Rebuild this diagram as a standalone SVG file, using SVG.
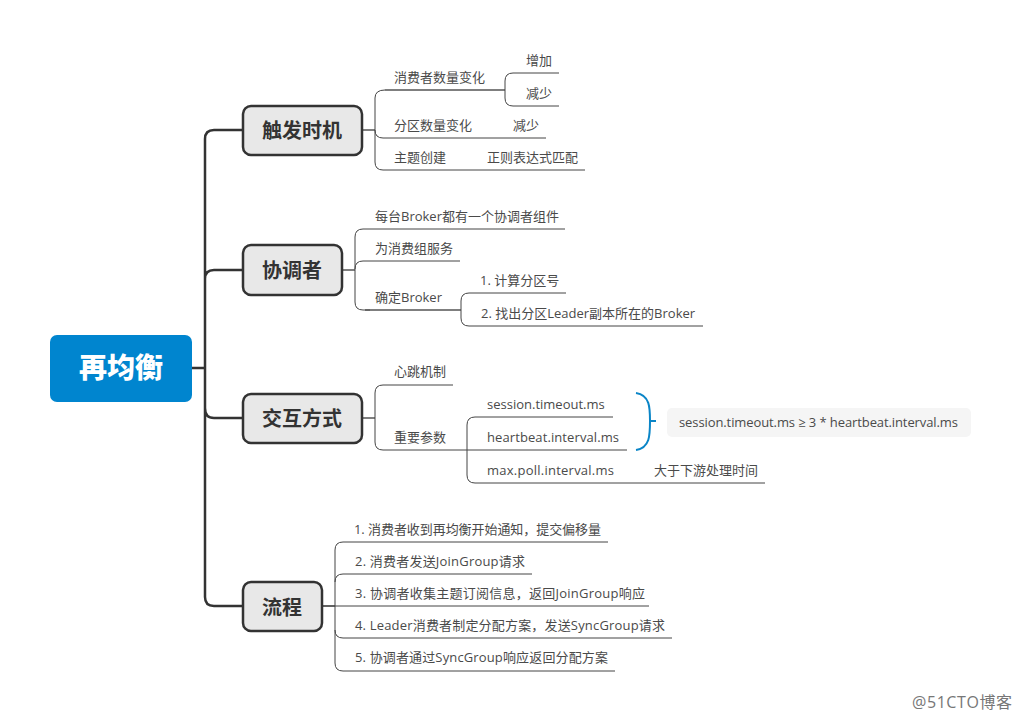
<svg xmlns="http://www.w3.org/2000/svg" width="1021" height="721" viewBox="0 0 1021 721">
<style>
text{font-family:"Open Sans","Noto Sans CJK SC",sans-serif;}
.l{font-size:13px;fill:#4a4a4a;}
.n{font-size:20px;font-weight:700;fill:#333;text-anchor:middle;font-family:"Noto Sans CJK SC",sans-serif;}
.b{fill:#e8e8e8;stroke:#333;stroke-width:2.5;}
.t{fill:none;stroke:#333;stroke-width:2.5;}
.c{fill:none;stroke:#444;stroke-width:1;}
.m{fill:none;stroke:#555;stroke-width:1.5;}
</style>
<rect width="1021" height="721" fill="#fff"/>
<g id="connectors">
<path class="t" d="M192 368H205M243 130H214Q205 130 205 139V597Q205 606 214 606H243M205 279Q205 270 214 270H243M205 408Q205 418 214 418H243"/>
<path class="m" d="M362 130H375M342 270H355M362 418H375M322 606H335"/>
<path class="c" d="M385 90Q375 90 375 98V162Q375 170 383 170H585M375 130V130Q375 138 383 138H546"/>
<path class="m" d="M385 90H505"/>
<path class="c" d="M559 73H513Q505 73 505 81V98Q505 106 513 106H559"/>
<path class="c" d="M565 229H363Q355 229 355 237V302Q355 310 363 310H370M355 269Q355 261 363 261H460"/>
<path class="m" d="M365 310H461"/>
<path class="c" d="M566 293H469Q461 293 461 301V318Q461 326 469 326H703"/>
<path class="c" d="M453 385H383Q375 385 375 393V442Q375 450 383 450H627"/>
<path class="c" d="M613 417H475Q467 417 467 425V475Q467 483 475 483H765"/>
<path class="c" d="M608 542H343Q335 542 335 550V663Q335 671 343 671H615M532 574H343Q335 574 335 582M322 606H649M672 638H343Q335 638 335 630"/>
<path d="M636 393C650 395 650 408 650 421C650 435 650 448 636 450M650 421H656" fill="none" stroke="#0a85c7" stroke-width="2"/>
</g>
<g id="root"><rect x="50" y="335" width="142" height="67" rx="7" fill="#0085cf"/><text x="121" y="378" text-anchor="middle" font-size="28" font-weight="900" fill="#fff" style="font-family:'Noto Sans CJK SC',sans-serif">再均衡</text></g>
<g id="n1"><rect class="b" x="243" y="106" width="119" height="49" rx="8"/><text class="n" x="302" y="138">触发时机</text></g>
<g id="n2"><rect class="b" x="243" y="245" width="99" height="50" rx="8"/><text class="n" x="292" y="278">协调者</text></g>
<g id="n3"><rect class="b" x="243" y="394" width="119" height="49" rx="8"/><text class="n" x="302" y="426">交互方式</text></g>
<g id="n4"><rect class="b" x="243" y="582" width="79" height="49" rx="8"/><text class="n" x="282" y="615">流程</text></g>
<g id="labels1">
<text class="l" x="394" y="82">消费者数量变化</text><text class="l" x="526" y="64.5">增加</text><text class="l" x="526" y="98">减少</text>
<text class="l" x="394" y="130">分区数量变化</text><text class="l" x="513" y="130">减少</text>
<text class="l" x="394" y="162">主题创建</text><text class="l" x="487" y="162">正则表达式匹配</text>
</g>
<g id="labels2">
<text class="l" x="375" y="220.5">每台Broker都有一个协调者组件</text><text class="l" x="375" y="252.5">为消费组服务</text><text class="l" x="375" y="302">确定Broker</text>
<text class="l" x="480" y="285">1. 计算分区号</text><text class="l" x="481" y="318">2. 找出分区Leader副本所在的Broker</text>
</g>
<g id="labels3">
<text class="l" x="394" y="376">心跳机制</text><text class="l" x="394" y="442">重要参数</text>
<text class="l" x="487" y="409">session.timeout.ms</text><text class="l" x="487" y="442" textLength="132">heartbeat.interval.ms</text><text class="l" x="487" y="475" textLength="127">max.poll.interval.ms</text>
<text class="l" x="654" y="475">大于下游处理时间</text>
</g>
<g id="note"><rect x="667" y="408" width="304" height="29" rx="5" fill="#f5f5f5"/><text class="l" x="679" y="427" textLength="279">session.timeout.ms ≥ 3 * heartbeat.interval.ms</text></g>
<g id="labels4">
<text class="l" x="354" y="533.5" textLength="247">1. 消费者收到再均衡开始通知，提交偏移量</text>
<text class="l" x="355" y="566" textLength="170">2. 消费者发送JoinGroup请求</text>
<text class="l" x="355" y="598" textLength="290">3. 协调者收集主题订阅信息，返回JoinGroup响应</text>
<text class="l" x="355" y="630" textLength="310">4. Leader消费者制定分配方案，发送SyncGroup请求</text>
<text class="l" x="355" y="662" textLength="253">5. 协调者通过SyncGroup响应返回分配方案</text>
</g>
<text x="912" y="708" font-size="16" fill="#777" textLength="100">@51CTO博客</text>
</svg>
